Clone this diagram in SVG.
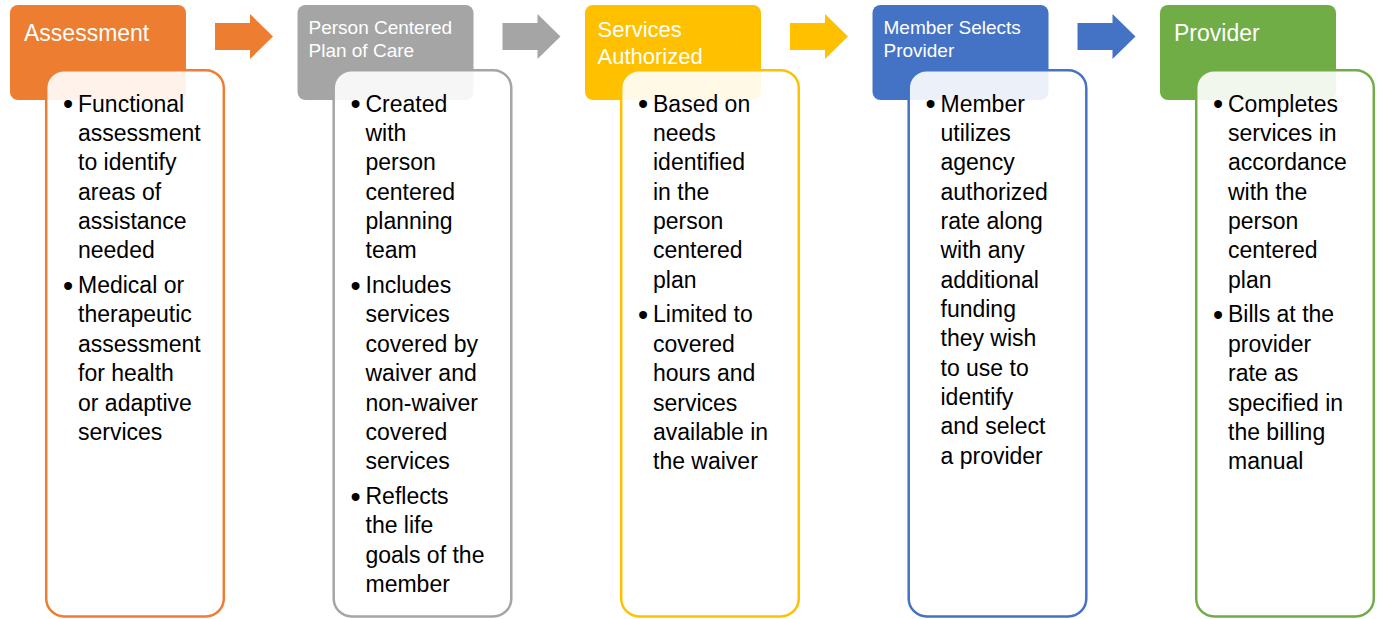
<svg xmlns="http://www.w3.org/2000/svg" width="1382" height="619" viewBox="0 0 1382 619">
  <style>
    .hdr { stroke: none; }
    .body { fill: #ffffff; fill-opacity: 0.9; stroke-width: 2.5; }
    .title { font-family: "Liberation Sans", Arial, sans-serif; fill: #ffffff; }
    .t-lg { font-size: 23px; }
    .t-md { font-size: 22px; }
    .t-sm { font-size: 19px; }
    .txt { font-family: "Liberation Sans", Arial, sans-serif; font-size: 23px; fill: #000000; }
    .bul { font-size: 29px; }
    .orange { fill: #ED7D31; } .s-orange { stroke: #ED7D31; }
    .gray { fill: #A5A5A5; } .s-gray { stroke: #A5A5A5; }
    .gold { fill: #FFC000; } .s-gold { stroke: #FFC000; }
    .blue { fill: #4472C4; } .s-blue { stroke: #4472C4; }
    .green { fill: #70AD47; } .s-green { stroke: #70AD47; }
  </style>
  <defs>
    <path id="arrow" d="M215,23 H250 V14 L273,36.5 L250,59 V50 H215 Z"/>
  </defs>

  <rect width="1382" height="619" fill="#ffffff"/>

  <!-- connectors between stages -->
  <g id="connectors">
    <use href="#arrow" class="orange"/>
    <use href="#arrow" class="gray" transform="translate(287.5,0)"/>
    <use href="#arrow" class="gold" transform="translate(575,0)"/>
    <use href="#arrow" class="blue" transform="translate(862.5,0)"/>
  </g>

  <!-- Stage 1 -->
  <g id="assessment">
    <rect class="hdr orange" x="10" y="5" width="176" height="95" rx="8"/>
    <text class="title t-lg" x="24" y="41">Assessment</text>
    <rect class="body s-orange" x="46.2" y="70.2" width="177.6" height="546.3" rx="18"/>
    <text class="txt">
      <tspan class="bul" x="63" y="114">•</tspan><tspan x="78" y="111.5">Functional</tspan>
      <tspan x="78" y="140.85">assessment</tspan>
      <tspan x="78" y="170.2">to identify</tspan>
      <tspan x="78" y="199.55">areas of</tspan>
      <tspan x="78" y="228.9">assistance</tspan>
      <tspan x="78" y="258.25">needed</tspan>
      <tspan class="bul" x="63" y="295.6">•</tspan><tspan x="78" y="293.1">Medical or</tspan>
      <tspan x="78" y="322.45">therapeutic</tspan>
      <tspan x="78" y="351.8">assessment</tspan>
      <tspan x="78" y="381.15">for health</tspan>
      <tspan x="78" y="410.5">or adaptive</tspan>
      <tspan x="78" y="439.85">services</tspan>
    </text>
  </g>

  <!-- Stage 2 -->
  <g id="plan-of-care" transform="translate(287.5,0)">
    <rect class="hdr gray" x="10" y="5" width="176" height="95" rx="8"/>
    <text class="title t-sm"><tspan x="21" y="34">Person Centered</tspan><tspan x="21" y="57">Plan of Care</tspan></text>
    <rect class="body s-gray" x="46.2" y="70.2" width="177.6" height="546.3" rx="18"/>
    <text class="txt">
      <tspan class="bul" x="63" y="114">•</tspan><tspan x="78" y="111.5">Created</tspan>
      <tspan x="78" y="140.85">with</tspan>
      <tspan x="78" y="170.2">person</tspan>
      <tspan x="78" y="199.55">centered</tspan>
      <tspan x="78" y="228.9">planning</tspan>
      <tspan x="78" y="258.25">team</tspan>
      <tspan class="bul" x="63" y="295.6">•</tspan><tspan x="78" y="293.1">Includes</tspan>
      <tspan x="78" y="322.45">services</tspan>
      <tspan x="78" y="351.8">covered by</tspan>
      <tspan x="78" y="381.15">waiver and</tspan>
      <tspan x="78" y="410.5">non-waiver</tspan>
      <tspan x="78" y="439.85">covered</tspan>
      <tspan x="78" y="469.2">services</tspan>
      <tspan class="bul" x="63" y="506.5">•</tspan><tspan x="78" y="504">Reflects</tspan>
      <tspan x="78" y="533.35">the life</tspan>
      <tspan x="78" y="562.7">goals of the</tspan>
      <tspan x="78" y="592">member</tspan>
    </text>
  </g>

  <!-- Stage 3 -->
  <g id="services-authorized" transform="translate(575,0)">
    <rect class="hdr gold" x="10" y="5" width="176" height="95" rx="8"/>
    <text class="title t-md"><tspan x="22.5" y="37">Services</tspan><tspan x="22.5" y="63.5">Authorized</tspan></text>
    <rect class="body s-gold" x="46.2" y="70.2" width="177.6" height="546.3" rx="18"/>
    <text class="txt">
      <tspan class="bul" x="63" y="114">•</tspan><tspan x="78" y="111.5">Based on</tspan>
      <tspan x="78" y="140.85">needs</tspan>
      <tspan x="78" y="170.2">identified</tspan>
      <tspan x="78" y="199.55">in the</tspan>
      <tspan x="78" y="228.9">person</tspan>
      <tspan x="78" y="258.25">centered</tspan>
      <tspan x="78" y="287.6">plan</tspan>
      <tspan class="bul" x="63" y="324.95">•</tspan><tspan x="78" y="322.45">Limited to</tspan>
      <tspan x="78" y="351.8">covered</tspan>
      <tspan x="78" y="381.15">hours and</tspan>
      <tspan x="78" y="410.5">services</tspan>
      <tspan x="78" y="439.85">available in</tspan>
      <tspan x="78" y="469.2">the waiver</tspan>
    </text>
  </g>

  <!-- Stage 4 -->
  <g id="member-selects-provider" transform="translate(862.5,0)">
    <rect class="hdr blue" x="10" y="5" width="176" height="95" rx="8"/>
    <text class="title t-sm"><tspan x="21" y="34">Member Selects</tspan><tspan x="21" y="57">Provider</tspan></text>
    <rect class="body s-blue" x="46.2" y="70.2" width="177.6" height="546.3" rx="18"/>
    <text class="txt">
      <tspan class="bul" x="63" y="114">•</tspan><tspan x="78" y="111.5">Member</tspan>
      <tspan x="78" y="140.85">utilizes</tspan>
      <tspan x="78" y="170.2">agency</tspan>
      <tspan x="78" y="199.55">authorized</tspan>
      <tspan x="78" y="228.9">rate along</tspan>
      <tspan x="78" y="258.25">with any</tspan>
      <tspan x="78" y="287.6">additional</tspan>
      <tspan x="78" y="316.95">funding</tspan>
      <tspan x="78" y="346.3">they wish</tspan>
      <tspan x="78" y="375.65">to use to</tspan>
      <tspan x="78" y="405">identify</tspan>
      <tspan x="78" y="434.35">and select</tspan>
      <tspan x="78" y="463.7">a provider</tspan>
    </text>
  </g>

  <!-- Stage 5 -->
  <g id="provider" transform="translate(1150,0)">
    <rect class="hdr green" x="10" y="5" width="176" height="95" rx="8"/>
    <text class="title t-lg" x="24" y="41">Provider</text>
    <rect class="body s-green" x="46.2" y="70.2" width="177.6" height="546.3" rx="18"/>
    <text class="txt">
      <tspan class="bul" x="63" y="114">•</tspan><tspan x="78" y="111.5">Completes</tspan>
      <tspan x="78" y="140.85">services in</tspan>
      <tspan x="78" y="170.2">accordance</tspan>
      <tspan x="78" y="199.55">with the</tspan>
      <tspan x="78" y="228.9">person</tspan>
      <tspan x="78" y="258.25">centered</tspan>
      <tspan x="78" y="287.6">plan</tspan>
      <tspan class="bul" x="63" y="324.95">•</tspan><tspan x="78" y="322.45">Bills at the</tspan>
      <tspan x="78" y="351.8">provider</tspan>
      <tspan x="78" y="381.15">rate as</tspan>
      <tspan x="78" y="410.5">specified in</tspan>
      <tspan x="78" y="439.85">the billing</tspan>
      <tspan x="78" y="469.2">manual</tspan>
    </text>
  </g>
</svg>
